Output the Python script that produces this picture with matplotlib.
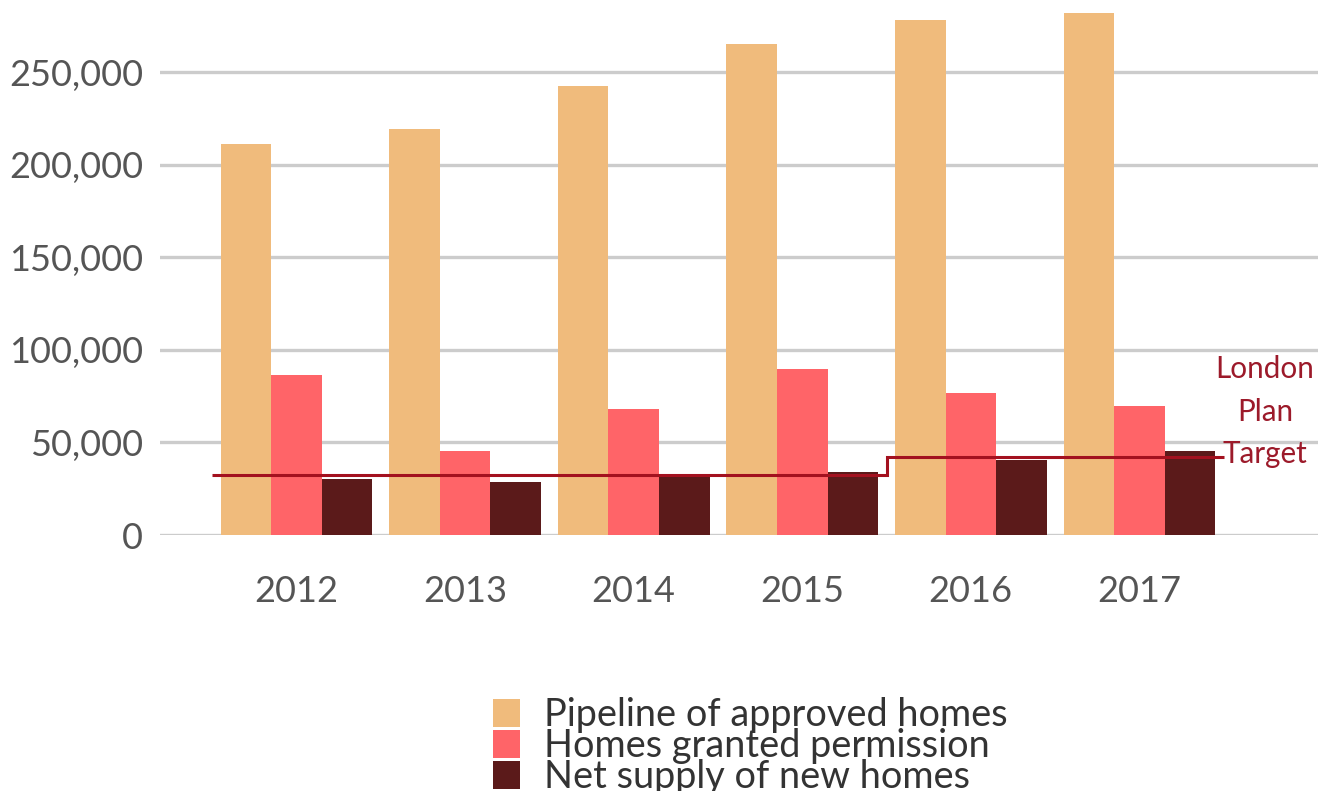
import numpy as np
import matplotlib
matplotlib.use("Agg")
import matplotlib.pyplot as plt

# Daten
years = ["2012", "2013", "2014", "2015", "2016", "2017"]
pipeline = [211000, 219000, 242500, 265000, 278000, 282000]
granted = [86500, 45500, 68000, 89500, 76500, 69500]
net_supply = [30500, 28700, 32500, 34000, 40500, 45500]
target = [32210, 32210, 32210, 32210, 42389, 42389]

series_labels = ["Pipeline of approved homes", "Homes granted permission", "Net supply of new homes"]
colors = ["#F0BB7C", "#FF6468", "#5B1A1A"]

plt.rcParams["font.family"] = ["Lato", "DejaVu Sans"]

fig = plt.figure(figsize=(13.28, 7.91), dpi=100)
ax = fig.add_axes([0.1205, 0.3236, 0.872, 0.6626])

x = np.arange(len(years))
w = 0.3
for i, (vals, col, lab) in enumerate(zip([pipeline, granted, net_supply], colors, series_labels)):
    ax.bar(x + (i - 1) * w, vals, width=w, color=col, label=lab, zorder=2)

# London Plan Target als Stufenlinie
ax.stairs(target, np.arange(len(years) + 1) - 0.5, baseline=None,
          color="#A3111F", linewidth=2.2, zorder=3)
ax.text(5.745, 66500, "London\nPlan\nTarget", ha="center", va="center",
        fontsize=21.3, color="#9C1A2A", linespacing=1.63, zorder=4)

# Achsen
ax.set_xlim(-0.81, 6.06)
ax.set_ylim(0, 283000)
ax.set_yticks(range(0, 250001, 50000))
ax.set_yticklabels([f"{v:,}" for v in range(0, 250001, 50000)])
ax.set_xticks(x)
ax.set_xticklabels(years)
ax.tick_params(axis="both", length=0, labelsize=26, colors="#555555")
ax.tick_params(axis="y", pad=12)
ax.tick_params(axis="x", pad=29)
ax.grid(axis="y", color="#CCCCCC", linewidth=2.4, zorder=0)
ax.set_axisbelow(True)
for s in ax.spines.values():
    s.set_visible(False)

leg = fig.legend(loc="upper left", bbox_to_anchor=(0.357, 0.143), frameon=False,
                 fontsize=27.3, handlelength=0.71, handleheight=0.77,
                 handletextpad=0.63, labelspacing=-0.13, borderpad=0,
                 labelcolor="#333333")

fig.savefig("out.png", dpi=100)
